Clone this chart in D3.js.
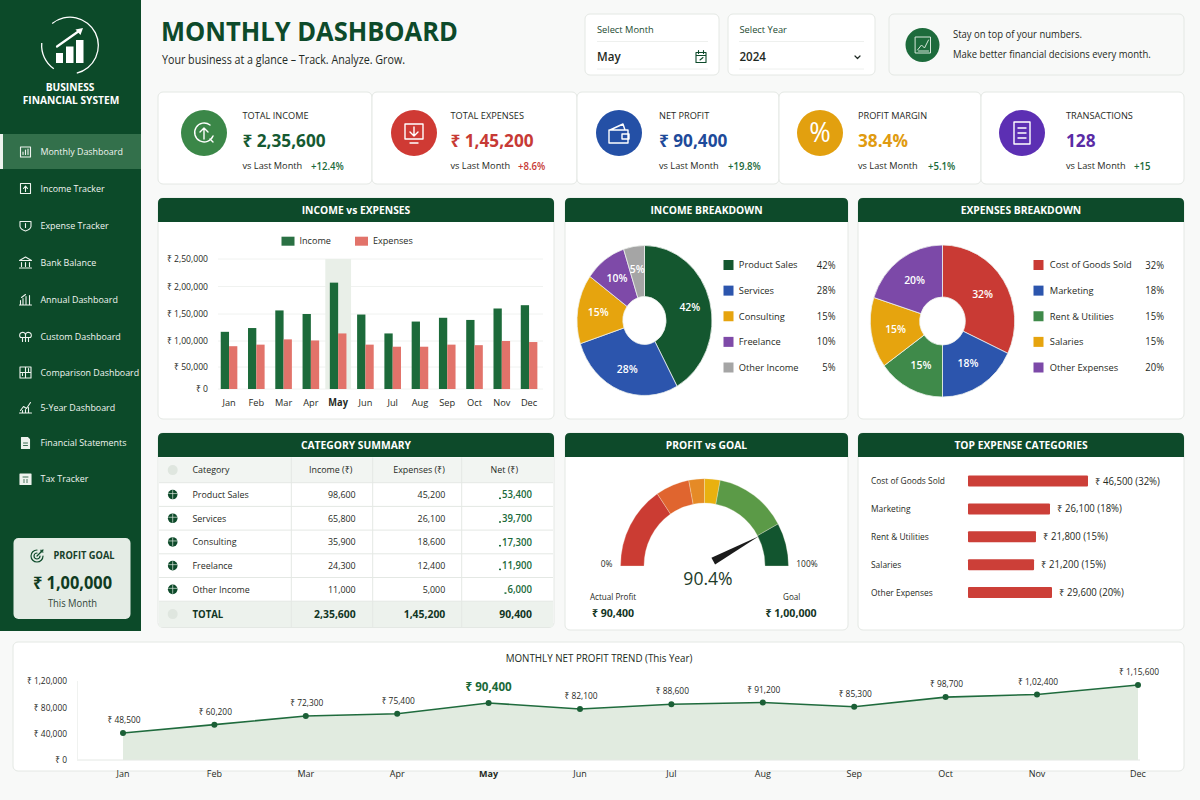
<!DOCTYPE html>
<html>
<head>
<meta charset="utf-8">
<title>Monthly Dashboard</title>
<script src="https://cdn.jsdelivr.net/npm/d3@7"></script>
<style>
  body { margin: 0; background: #f8f9f8; }
  svg { display: block; }
  text { font-family: "Open Sans", "Noto Sans", sans-serif; fill: #1f2a24; }
  .grid line { stroke: #f0f2f0; }
  .axis path, .axis line { display: none; }
</style>
</head>
<body>
<div id="dashboard"></div>
<script>
const months = ["Jan", "Feb", "Mar", "Apr", "May", "Jun", "Jul", "Aug", "Sep", "Oct", "Nov", "Dec"];
const monthlyIncome = [117000, 124000, 156500, 150000, 207000, 149000, 114000, 136000, 143000, 139000, 160000, 166000];
const monthlyExpenses = [90000, 93000, 103000, 101000, 114000, 93000, 89000, 89000, 93000, 92000, 100000, 98000];
const incomeTicks = [0, 50000, 100000, 150000, 200000, 250000];

const navItems = ["Monthly Dashboard", "Income Tracker", "Expense Tracker", "Bank Balance", "Annual Dashboard", "Custom Dashboard", "Comparison Dashboard", "5-Year Dashboard", "Financial Statements", "Tax Tracker"];

const kpiLabels = ["TOTAL INCOME", "TOTAL EXPENSES", "NET PROFIT", "PROFIT MARGIN", "TRANSACTIONS"];
const kpiValues = ["₹ 2,35,600", "₹ 1,45,200", "₹ 90,400", "38.4%", "128"];
const kpiChanges = ["+12.4%", "+8.6%", "+19.8%", "+5.1%", "+15"];

const incomeLabels = ["Product Sales", "Services", "Consulting", "Freelance", "Other Income"];
const incomeShares = [42, 28, 15, 10, 5];
const expenseLabels = ["Cost of Goods Sold", "Marketing", "Rent & Utilities", "Salaries", "Other Expenses"];
const expenseShares = [32, 18, 15, 15, 20];

const tableCategories = ["Product Sales", "Services", "Consulting", "Freelance", "Other Income"];
const tableIncome = [98600, 65800, 35900, 24300, 11000];
const tableExpenses = [45200, 26100, 18600, 12400, 5000];
const tableNet = [53400, 39700, 17300, 11900, 6000];
const tableTotals = [235600, 145200, 90400];

const gaugeBands = [31, 13, 6, 6, 28, 16];
const gaugeNeedle = 84;
const gaugeText = "90.4%";
const actualProfit = 90400;
const profitGoal = 100000;

const topCategories = ["Cost of Goods Sold", "Marketing", "Rent & Utilities", "Salaries", "Other Expenses"];
const topValues = [46500, 26100, 21800, 21200, 29600];
const topShares = [32, 18, 15, 15, 20];

const trendValues = [48500, 60200, 72300, 75400, 90400, 82100, 88600, 91200, 85300, 98700, 102400, 115600];
const trendTicks = [0, 40000, 80000, 120000];

const DARK = "#0d4a2a";
const GREEN = "#1b6a3a";
const LINE = "#e4e8e4";

const inr = (v) => {
  const s = String(v);
  if (s.length <= 3) return s;
  const head = s.slice(0, -3).replace(/\B(?=(\d{2})+$)/g, ",");
  return head + "," + s.slice(-3);
};
const rupee = (v) => "₹ " + inr(v);

const svg = d3.select("#dashboard").append("svg").attr("width", 1200).attr("height", 800);
svg.append("rect").attr("width", 1200).attr("height", 800).attr("fill", "#f8f9f8");

// the reference face is narrower than Open Sans: draw a bit taller, keep the width of "size"
function condense(node, tall) {
  const len = node.getComputedTextLength();
  node.setAttribute("textLength", len / tall);
  node.setAttribute("lengthAdjust", "spacingAndGlyphs");
}

function label(parent, x, y, txt, size, opts = {}) {
  const tall = opts.tall || 1.06;
  const t = parent
    .append("text")
    .attr("x", x)
    .attr("y", y)
    .attr("dy", ".35em")
    .attr("text-anchor", opts.anchor || "start")
    .style("font-size", size * tall + "px")
    .style("font-weight", opts.weight || 400)
    .style("fill", opts.fill || "#1f2a24")
    .text(txt);
  condense(t.node(), tall);
  return t;
}

function axisText(g, size, weight) {
  g.selectAll("text")
    .style("font-size", size * 1.06 + "px")
    .style("font-weight", weight || 400)
    .each(function () { condense(this, 1.06); });
}

function card(x, y, w, h, fill = "#fff") {
  svg.append("rect").attr("x", x).attr("y", y).attr("width", w).attr("height", h)
    .attr("rx", 5).attr("fill", fill).attr("stroke", LINE);
}

// card with the dark green title bar
function panel(x, y, w, h, title) {
  card(x, y, w, h);
  const r = 5;
  svg.append("path").attr("fill", DARK)
    .attr("d", `M${x},${y + 24}V${y + r}Q${x},${y} ${x + r},${y}H${x + w - r}Q${x + w},${y} ${x + w},${y + r}V${y + 24}Z`);
  label(svg, x + w / 2, y + 12.5, title, 10.3, { anchor: "middle", weight: 700, fill: "#fff" });
}

function glyph(parent, x, y, d, color, width = 1.4) {
  return parent.append("path").attr("transform", `translate(${x},${y})`).attr("d", d)
    .attr("fill", "none").attr("stroke", color).attr("stroke-width", width)
    .attr("stroke-linecap", "round").attr("stroke-linejoin", "round");
}

/* ---------- sidebar ---------- */
const side = svg.append("g");
side.append("rect").attr("width", 141).attr("height", 631).attr("fill", "#0c4a29");

const ring = d3.arc().innerRadius(27.7).outerRadius(29);
side.append("path").attr("transform", "translate(70,45.5)").attr("fill", "#fff")
  .attr("d", ring({ startAngle: -0.68, endAngle: 2.9 }));
side.append("path").attr("transform", "translate(70,45.5)").attr("fill", "#fff")
  .attr("d", ring({ startAngle: 3.75, endAngle: 4.8 }));
[[56, 53, 7, 10], [66, 46.5, 7.5, 16.5], [76, 40, 7.5, 23]].forEach((b) => {
  side.append("rect").attr("x", b[0]).attr("y", b[1]).attr("width", b[2]).attr("height", b[3]).attr("fill", "#fff");
});
glyph(side, 0, 0, "M57,46.5L79,31", "#fff", 2.2);
side.append("path").attr("d", "M83,28L75.5,29.5L80.5,35Z").attr("fill", "#fff");
label(side, 70, 87, "BUSINESS", 10.2, { anchor: "middle", weight: 700, fill: "#fff" });
label(side, 71, 100.5, "FINANCIAL SYSTEM", 10.2, { anchor: "middle", weight: 700, fill: "#fff" });

side.append("rect").attr("y", 134).attr("width", 141).attr("height", 35).attr("fill", "#33704b");
side.append("rect").attr("y", 134).attr("width", 3).attr("height", 35).attr("fill", "#eef3ee");

const navY = [152, 188.5, 225.5, 262.5, 299.5, 336.5, 372.5, 407.5, 443, 479];
const navIcons = [
  "M-5,-5H5V5H-5ZM-2.5,2.5V0M0,2.5V-2M2.5,2.5V-3",
  "M-5,-5H5V5H-5ZM0,3V-2M-2,0L0,-2.5L2,0",
  "M-5.5,-4H5.5V1Q5,4 0,5.5Q-5,4 -5.5,1ZM0,-2V2",
  "M-6,-2L0,-5.5L6,-2ZM-4,0V4M0,0V4M4,0V4M-6,5.5H6",
  "M-6,5.5H6M-5,5V1M-2.5,5V-1M0.5,5V-3M4,5V-4M-4,-2L0,-5",
  "M-5,1A3,3 0 1 1 0,-2A3,3 0 1 1 5,1ZM-3,1V5M0,-2V5M3,1V5",
  "M-5.5,-5.5H5.5V5.5H-5.5ZM0,-5.5V5.5M-5.5,0H5.5M-3,3V1M3,-1V-4",
  "M-6,5.5H6M-5,3L-2,-1L1,1L5,-5M-3,5V3M0,5V2M3,5V0",
  "M-4,-5.5H2L4,-3.5V5.5H-4Z",
  "M-5.5,-5H5.5V5.5H-5.5Z",
];
navItems.forEach((name, i) => {
  const icon = glyph(side, 25.5, navY[i], navIcons[i], "#eef3ee", 1.1);
  if (i >= 8) {
    icon.attr("fill", "#eef3ee");
    glyph(side, 25.5, navY[i], i === 8 ? "M-2,0H2M-2,2.5H2" : "M-2.5,-2H2.5M-2,1H-1M1,1H2M-2,3H-1M1,3H2", "#0c4a29", 0.8);
  }
  label(side, 40.5, navY[i], name, 8.9, { fill: "#f1f5f1", weight: 500, tall: 1.1 });
});

side.append("rect").attr("x", 13.5).attr("y", 538).attr("width", 117).attr("height", 81).attr("rx", 5).attr("fill", "#e4ece5");
glyph(side, 37, 556, "M0,-6A6,6 0 1 0 6,0M0,-3A3,3 0 1 0 3,0M0,0L6,-6M4,-6V-4H6", DARK, 1.2);
label(side, 53.5, 556, "PROFIT GOAL", 9.3, { weight: 700, fill: "#17402a" });
label(side, 72.5, 583, rupee(profitGoal), 16.4, { anchor: "middle", weight: 700, fill: "#0f3b22" });
label(side, 72.5, 604, "This Month", 9.4, { anchor: "middle", fill: "#31453a" });

/* ---------- page header ---------- */
label(svg, 161, 31.5, "MONTHLY DASHBOARD", 25.5, { weight: 700, fill: DARK });
label(svg, 162, 59.5, "Your business at a glance – Track. Analyze. Grow.", 10.7, { tall: 1.1 });

card(585, 14, 134, 61);
label(svg, 597, 30, "Select Month", 9.3, { fill: "#1d4a31" });
svg.append("line").attr("x1", 597).attr("x2", 708).attr("y1", 41.5).attr("y2", 41.5).attr("stroke", "#eef0ee");
svg.append("line").attr("x1", 597).attr("x2", 708).attr("y1", 69).attr("y2", 69).attr("stroke", "#eef0ee");
label(svg, 597, 57, "May", 11.6, { weight: 600 });
glyph(svg, 701, 57, "M-5,-4.5H5V5.5H-5ZM-5,-1.5H5M-2.5,-6.5V-3.5M2.5,-6.5V-3.5M-1,3L2,0.5", DARK, 1.1);

card(728, 14, 147, 61);
label(svg, 739.5, 30, "Select Year", 9.3, { fill: "#1d4a31" });
svg.append("line").attr("x1", 739).attr("x2", 864).attr("y1", 41.5).attr("y2", 41.5).attr("stroke", "#eef0ee");
svg.append("line").attr("x1", 739).attr("x2", 864).attr("y1", 69).attr("y2", 69).attr("stroke", "#eef0ee");
label(svg, 739.5, 57, "2024", 11.6, { weight: 600 });
glyph(svg, 857.5, 57, "M-2.5,-1L0,1.5L2.5,-1", "#1f2a24", 1.2);

card(889, 14, 295, 61, "#f8f9f8");
svg.append("circle").attr("cx", 922.5).attr("cy", 45).attr("r", 17).attr("fill", "#1d6b3c");
glyph(svg, 922.5, 45, "M-7,-8H8V8H-7ZM-5,5L-1,0L2,3L6,-5M-4,6H6", "#d7e7da", 1);
label(svg, 953, 34.5, "Stay on top of your numbers.", 9.5);
label(svg, 953, 54, "Make better financial decisions every month.", 9.5);

/* ---------- KPI strip ---------- */
const kpiLeft = [158, 372, 577, 779, 981];
const kpiRight = [372, 577, 779, 981, 1184];
const kpiIconX = [204, 414, 619, 820, 1022];
const kpiTextX = [242.5, 450.5, 659, 858, 1066];
const kpiDeltaX = [311, 518, 728, 928, 1134];
const kpiCircle = ["#3b8748", "#cf3a34", "#2450a6", "#e2a00f", "#5c2fb3"];
const kpiColor = ["#165a32", "#c73a35", "#1e4a9a", "#e09b10", "#5a2ca5"];
const deltaColor = [GREEN, "#c73a35", GREEN, GREEN, GREEN];
const kpiGlyphs = [
  "M6,-8A9.5,9.5 0 1 0 9,3M0,6V-5M-4,-1L0,-5L4,-1M6,6L9,9",
  "M-9,-9H9V6H-9ZM0,-6V3M-4,-1L0,3L4,-1M-4,10H4",
  "M-10,-3H9V10H-10ZM-9,-3L4,-9L6,-3M3,1H10V6H3Z",
  null,
  "M-8,-11H8V11H-8ZM-4,-5H4M-4,0H4M-4,5H4",
];
kpiLabels.forEach((name, i) => {
  card(kpiLeft[i], 92, kpiRight[i] - kpiLeft[i], 92);
  svg.append("circle").attr("cx", kpiIconX[i]).attr("cy", 133).attr("r", 23).attr("fill", kpiCircle[i]);
  if (kpiGlyphs[i]) {
    glyph(svg, kpiIconX[i], 133, kpiGlyphs[i], "#fff", 1.4);
  } else {
    label(svg, kpiIconX[i], 132, "%", 26, { anchor: "middle", fill: "#fff" });
  }
  label(svg, kpiTextX[i], 115.5, name, 9.2);
  label(svg, kpiTextX[i], 141, kpiValues[i], 17.2, { weight: 700, fill: kpiColor[i] });
  label(svg, kpiTextX[i], 166, "vs Last Month", 9.2);
  label(svg, kpiDeltaX[i], 166, kpiChanges[i], 9.6, { weight: 600, fill: deltaColor[i] });
});

/* ---------- income vs expenses ---------- */
panel(158, 198, 396, 221, "INCOME vs EXPENSES");
const barChart = svg.append("g");

const barX = d3.scaleBand().domain(months).range([215.4, 542.7]);
const barY = d3.scaleLinear().domain(incomeTicks).range([389, 367, 341, 314, 286.5, 259]);
const barW = 8.3;

barChart.append("g").attr("class", "grid").selectAll("line").data(incomeTicks).enter().append("line")
  .attr("x1", 218).attr("x2", 543).attr("y1", (d) => barY(d)).attr("y2", (d) => barY(d));

barChart.append("rect").attr("x", barX("May") + 0.8).attr("y", barY(250000))
  .attr("width", barX.bandwidth() - 1.5).attr("height", barY(0) - barY(250000)).attr("fill", "#e9efe8");

barChart.selectAll(".income").data(months).enter().append("rect").attr("class", "income")
  .attr("x", (d) => barX(d) + barX.bandwidth() / 2 - barW)
  .attr("y", (d, i) => barY(monthlyIncome[i]))
  .attr("width", barW)
  .attr("height", (d, i) => barY(0) - barY(monthlyIncome[i]))
  .attr("fill", "#1c6a3a");
barChart.selectAll(".expense").data(months).enter().append("rect").attr("class", "expense")
  .attr("x", (d) => barX(d) + barX.bandwidth() / 2)
  .attr("y", (d, i) => barY(monthlyExpenses[i]))
  .attr("width", barW)
  .attr("height", (d, i) => barY(0) - barY(monthlyExpenses[i]))
  .attr("fill", "#e2736a");

barChart.append("g").attr("class", "axis").attr("transform", "translate(0,396)")
  .call(d3.axisBottom(barX).tickSize(0))
  .call((g) => {
    g.selectAll("text").style("font-weight", (d) => (d === "May" ? 700 : 400));
    g.selectAll("text").style("font-size", "9.8px").each(function () { condense(this, 1.06); });
  });
barChart.append("g").attr("class", "axis").attr("transform", "translate(211,0)")
  .call(d3.axisLeft(barY).tickValues(incomeTicks).tickSize(0).tickPadding(3).tickFormat(rupee))
  .call((g) => axisText(g, 8.6));

barChart.append("rect").attr("x", 281.5).attr("y", 236.7).attr("width", 13).attr("height", 9).attr("fill", "#2a7043");
label(barChart, 299.5, 241, "Income", 9.1);
barChart.append("rect").attr("x", 355).attr("y", 236.7).attr("width", 13).attr("height", 9).attr("fill", "#e2736a");
label(barChart, 373, 241, "Expenses", 9.1);

/* ---------- breakdown pies ---------- */
function drawPie(cx, cy, outer, inner, squeeze, shares, colors, labelRadius) {
  const g = svg.append("g").attr("transform", `translate(${cx},${cy})`);
  const pie = d3.pie().sort(null).value((d) => d);
  const arc = d3.arc().innerRadius(inner).outerRadius(outer);
  const mid = d3.arc().innerRadius(labelRadius).outerRadius(labelRadius);
  const slices = pie(shares);
  g.append("g").attr("transform", `scale(${squeeze},1)`).selectAll("path").data(slices).enter().append("path")
    .attr("d", arc)
    .attr("fill", (d, i) => colors[i])
    .attr("stroke", "#eef2ee")
    .attr("stroke-width", 0.8);
  slices.forEach((s) => {
    const c = mid.centroid(s);
    label(g, c[0] * squeeze, c[1], s.value + "%", 10.4, { anchor: "middle", weight: 600, fill: "#fff" });
  });
}

function pieLegend(swatchX, textX, pctX, names, shares, colors) {
  const rowY = d3.scalePoint().domain(names).range([265, 367.5]);
  names.forEach((name, i) => {
    svg.append("rect").attr("x", swatchX).attr("y", rowY(name) - 5).attr("width", 10).attr("height", 10).attr("fill", colors[i]);
    label(svg, textX, rowY(name), name, 9.3);
    label(svg, pctX, rowY(name), shares[i] + "%", 9.5, { anchor: "end" });
  });
}

const incomeColors = ["#14572f", "#2c55ad", "#e6a40e", "#7e4aa8", "#a5a5a5"];
const expenseColors = ["#c93a34", "#2c55ad", "#3f8a4a", "#e6a40e", "#7c49a8"];

panel(565, 198, 283, 221, "INCOME BREAKDOWN");
drawPie(644.5, 320.5, 75, 24, 0.9, incomeShares, incomeColors, 52);
pieLegend(723.5, 738.8, 835.5, incomeLabels, incomeShares, incomeColors);

panel(858, 198, 326, 221, "EXPENSES BREAKDOWN");
drawPie(942.5, 321, 76, 24, 0.95, expenseShares, expenseColors, 50);
pieLegend(1033.5, 1049.8, 1164, expenseLabels, expenseShares, expenseColors);

/* ---------- category summary ---------- */
panel(158, 433, 396, 194.5, "CATEGORY SUMMARY");
const table = svg.append("g");
const rowTop = d3.scaleLinear().domain([0, 1, 6, 7]).range([457.5, 482.7, 601.2, 627]);
table.append("rect").attr("x", 159).attr("y", rowTop(0)).attr("width", 394).attr("height", rowTop(1) - rowTop(0)).attr("fill", "#f2f5f2");
table.append("rect").attr("x", 159).attr("y", rowTop(6)).attr("width", 394).attr("height", rowTop(7) - rowTop(6)).attr("fill", "#edf2ed");
d3.range(1, 7).forEach((i) => {
  table.append("line").attr("x1", 159).attr("x2", 553).attr("y1", rowTop(i)).attr("y2", rowTop(i)).attr("stroke", LINE);
});
[291.3, 372.7, 461.7].forEach((x) => {
  table.append("line").attr("x1", x).attr("x2", x).attr("y1", 457.5).attr("y2", 627).attr("stroke", LINE);
});
const rowMid = (i) => (rowTop(i) + rowTop(i + 1)) / 2;
table.append("circle").attr("cx", 172.7).attr("cy", rowMid(0)).attr("r", 5).attr("fill", "#dfe6df");
label(table, 192.5, rowMid(0), "Category", 8.9);
label(table, 330.7, rowMid(0), "Income (₹)", 8.9, { anchor: "middle" });
label(table, 419, rowMid(0), "Expenses (₹)", 8.9, { anchor: "middle" });
label(table, 504.3, rowMid(0), "Net (₹)", 8.9, { anchor: "middle" });
tableCategories.forEach((name, i) => {
  const y = rowMid(i + 1);
  table.append("circle").attr("cx", 172.7).attr("cy", y).attr("r", 4.8).attr("fill", DARK);
  glyph(table, 172.7, y, "M-4,-1H4M0,-4V4", "#dbe7dd", 0.7);
  label(table, 192.5, y, name, 8.9);
  label(table, 355.7, y, inr(tableIncome[i]), 8.9, { anchor: "end" });
  label(table, 445.3, y, inr(tableExpenses[i]), 8.9, { anchor: "end" });
  const net = label(table, 532, y, inr(tableNet[i]), 9.6, { anchor: "end", weight: 600, fill: GREEN });
  const w = net.node().getComputedTextLength();
  table.append("rect").attr("x", 532 - w - 3).attr("y", y + 3).attr("width", 2).attr("height", 1.5).attr("fill", GREEN);
});
table.append("circle").attr("cx", 172.7).attr("cy", rowMid(6)).attr("r", 5).attr("fill", "#dfe6df");
label(table, 192.5, rowMid(6), "TOTAL", 9.6, { weight: 700, fill: "#123524" });
[355.7, 445.3, 532].forEach((x, i) => {
  label(table, x, rowMid(6), inr(tableTotals[i]), 10.4, { anchor: "end", weight: 700, fill: "#123524" });
});

/* ---------- profit vs goal gauge ---------- */
panel(565, 433, 283, 197, "PROFIT vs GOAL");
const gauge = svg.append("g").attr("transform", "translate(704.5,566)");
const gaugeColors = ["#cb3c33", "#e0652f", "#e58a26", "#e9b10f", "#5b9a47", "#12552f"];
const gaugePie = d3.pie().sort(null).value((d) => d).startAngle(-Math.PI / 2).endAngle(Math.PI / 2);
const gaugeArc = d3.arc().innerRadius(60.5).outerRadius(84);
gauge.append("g").attr("transform", "scale(1,1.04)").selectAll("path").data(gaugePie(gaugeBands)).enter().append("path")
  .attr("d", gaugeArc)
  .attr("fill", (d, i) => gaugeColors[i])
  .attr("stroke", "#f6efe0")
  .attr("stroke-width", 0.3);
const needleAngle = d3.scaleLinear().domain([0, 100]).range([-90, 90]);
gauge.append("path").attr("transform", `rotate(${needleAngle(gaugeNeedle)})`)
  .attr("d", "M-3.8,-10L0,-62L3.8,-10Z").attr("fill", "#1b1b1b");
label(svg, 708, 578.5, gaugeText, 17.6, { anchor: "middle", fill: "#1d3c2a" });
label(svg, 606.7, 564, "0%", 8.4, { anchor: "middle" });
label(svg, 807, 564, "100%", 8.4, { anchor: "middle" });
label(svg, 613, 597, "Actual Profit", 8.1, { anchor: "middle" });
label(svg, 613, 613, rupee(actualProfit), 10.6, { anchor: "middle", weight: 700, fill: "#123524" });
label(svg, 791.7, 597, "Goal", 8.1, { anchor: "middle" });
label(svg, 791, 613, rupee(profitGoal), 10.6, { anchor: "middle", weight: 700, fill: "#123524" });

/* ---------- top expense categories ---------- */
panel(858, 433, 326, 197, "TOP EXPENSE CATEGORIES");
const topG = svg.append("g");
const topX = d3.scaleLinear().domain([0, 21500, 26100, 29600, 46500]).range([0, 67, 82, 84, 120]);
const topY = d3.scalePoint().domain(topCategories).range([481, 592.5]);
topCategories.forEach((name, i) => {
  const y = topY(name);
  label(topG, 871, y, name, 8.4);
  topG.append("rect").attr("x", 968).attr("y", y - 5.5).attr("width", topX(topValues[i])).attr("height", 11).attr("rx", 1).attr("fill", "#cc3f38");
  label(topG, 968 + topX(topValues[i]) + 7, y, `${rupee(topValues[i])} (${topShares[i]}%)`, 9.6);
});

/* ---------- net profit trend ---------- */
card(13, 642, 1171, 129);
label(svg, 599, 658, "MONTHLY NET PROFIT TREND (This Year)", 9.8, { anchor: "middle", fill: "#1a2a20" });
const trend = svg.append("g");
const trendX = d3.scaleLinear().domain([0, 10, 11]).range([123, 1037, 1138]);
const trendAxis = d3.scaleLinear().domain([0, 120000]).range([759.5, 681]);
// the plotted line sits on its own scale: it does not line up with the printed ticks
const trendY = d3.scaleLinear().domain([48500, 115600]).range([733, 685]);
const baseY = 760;

const trendArea = d3.area().x((d, i) => trendX(i)).y0(baseY).y1((d) => trendY(d));
const trendLine = d3.line().x((d, i) => trendX(i)).y((d) => trendY(d));

trend.append("path").attr("d", trendArea(trendValues)).attr("fill", "#e1ebe0");
trend.append("path").attr("d", trendLine(trendValues)).attr("fill", "none").attr("stroke", "#1f6b3d").attr("stroke-width", 1.6);
trend.append("line").attr("x1", 77).attr("x2", 1140).attr("y1", baseY).attr("y2", baseY).attr("stroke", "#e4e8e4");
trend.append("line").attr("x1", 77.5).attr("x2", 77.5).attr("y1", 681).attr("y2", baseY).attr("stroke", "#f0f2f0");
trend.selectAll("circle").data(trendValues).enter().append("circle")
  .attr("cx", (d, i) => trendX(i)).attr("cy", (d) => trendY(d)).attr("r", 3).attr("fill", "#1b5f36");

trendValues.forEach((v, i) => {
  const may = months[i] === "May";
  label(trend, trendX(i) + (may ? 0 : 1), trendY(v) - (may ? 16 : 13), rupee(v), may ? 11.6 : 8.4,
    { anchor: "middle", weight: may ? 700 : 400, fill: may ? GREEN : "#1f2a24" });
  label(trend, trendX(i), 774, months[i], 9, { anchor: "middle", weight: may ? 700 : 400 });
});
trend.append("g").attr("class", "axis").attr("transform", "translate(71,0)")
  .call(d3.axisLeft(trendAxis).tickValues(trendTicks).tickSize(0).tickPadding(4).tickFormat(rupee))
  .call((g) => axisText(g, 8.4));
</script>
</body>
</html>
